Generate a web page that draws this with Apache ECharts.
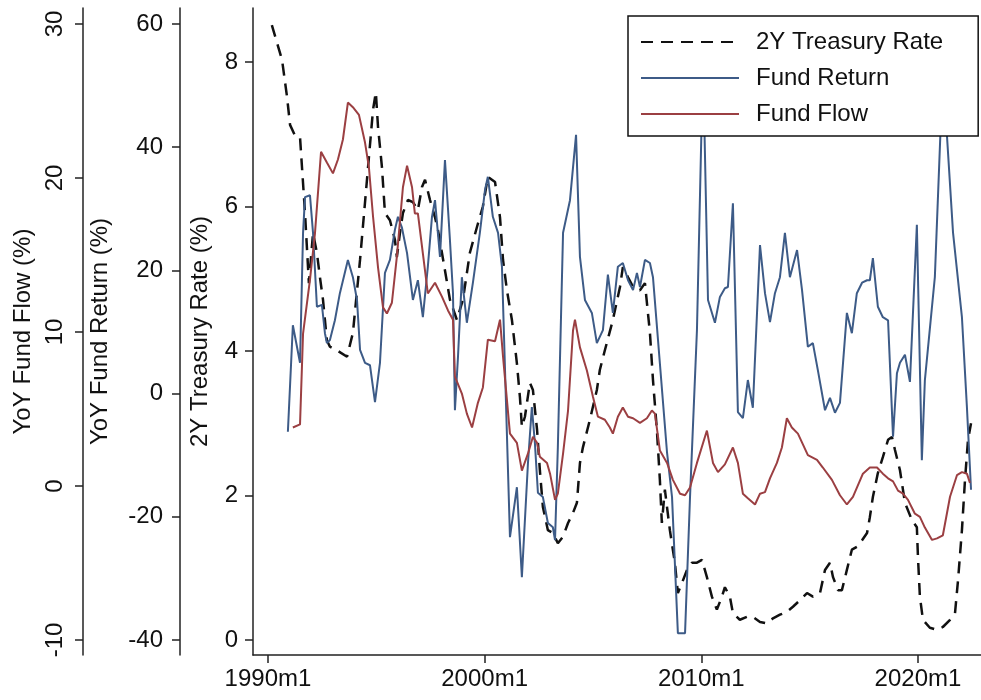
<!DOCTYPE html>
<html><head><meta charset="utf-8">
<script src="https://cdn.jsdelivr.net/npm/echarts@6/dist/echarts.min.js"></script>
<style>html,body{margin:0;padding:0;background:#fff}#c{width:981px;height:700px}</style>
</head><body><div id="c"></div>
<script>
// ---- tick values ----
const xTicks = [1990, 2000, 2010, 2020];
const treasuryTicks = [0, 2, 4, 6, 8];
const returnTicks = [-40, -20, 0, 20, 40, 60];
const flowTicks = [-10, 0, 10, 20, 30];

// ---- 2Y Treasury Rate (%) ----
const treasuryDates = [1990.18,1990.65,1990.88,1991.02,1991.25,1991.48,1991.57,1991.71,1991.89,1992.08,
1992.26,1992.40,1992.54,1992.72,1992.86,1993.18,1993.65,1993.92,1994.25,1994.57,
1994.85,1994.98,1995.08,1995.26,1995.40,1995.63,1995.86,1995.95,1996.09,1996.23,
1996.46,1996.69,1996.92,1997.11,1997.25,1997.48,1997.71,1997.85,1998.03,1998.40,
1998.72,1999.00,1999.32,1999.65,1999.92,2000.15,2000.48,2000.71,2000.85,2001.03,
2001.26,2001.49,2001.63,2001.72,2001.86,2002.09,2002.23,2002.42,2002.55,2002.69,
2002.92,2003.15,2003.38,2003.62,2003.85,2004.08,2004.26,2004.40,2004.54,2004.86,
2005.18,2005.32,2005.55,2005.92,2006.25,2006.38,2006.62,2006.85,2007.17,2007.40,
2007.63,2007.77,2007.95,2008.09,2008.18,2008.32,2008.55,2008.78,2008.92,2009.11,
2009.34,2009.57,2009.80,2010.03,2010.26,2010.49,2010.72,2010.95,2011.09,2011.32,
2011.46,2011.78,2012.11,2012.38,2012.71,2013.03,2013.31,2013.63,2013.95,2014.23,
2014.55,2014.88,2015.15,2015.48,2015.71,2015.94,2016.08,2016.31,2016.49,2016.72,
2016.95,2017.18,2017.42,2017.65,2017.78,2017.92,2018.15,2018.38,2018.62,2018.80,
2018.94,2019.17,2019.40,2019.72,2019.95,2020.00,2020.09,2020.23,2020.55,2020.88,
2021.15,2021.48,2021.71,2021.85,2022.03,2022.17,2022.31,2022.45];
const treasuryValues = [8.51,8.03,7.52,7.13,6.98,6.96,6.55,5.91,4.94,5.63,
5.36,5.02,4.71,4.15,4.06,4.01,3.92,4.25,5.26,6.37,
7.34,7.58,7.10,6.55,5.91,5.81,5.54,5.30,5.63,5.91,
6.09,6.06,5.95,6.27,6.37,6.09,5.85,5.67,5.36,4.71,
4.43,4.71,5.36,5.72,6.00,6.41,6.34,5.85,5.26,4.84,
4.43,3.83,3.36,2.95,3.09,3.56,3.46,2.91,2.35,1.84,
1.52,1.48,1.34,1.43,1.62,1.76,1.90,2.45,2.67,3.05,
3.46,3.74,4.01,4.43,4.89,5.16,5.02,4.89,4.84,4.94,
4.25,3.60,2.91,2.21,1.62,2.08,1.52,1.07,0.65,0.79,
0.97,1.07,1.07,1.11,0.87,0.60,0.42,0.60,0.73,0.60,
0.37,0.28,0.32,0.32,0.25,0.23,0.30,0.35,0.39,0.46,
0.55,0.65,0.60,0.65,0.97,1.07,0.87,0.69,0.69,0.97,
1.25,1.29,1.38,1.48,1.70,1.98,2.31,2.53,2.77,2.81,
2.63,2.35,1.90,1.66,1.56,1.15,0.60,0.28,0.17,0.14,
0.18,0.28,0.37,0.83,1.52,2.21,2.77,3.00];

// ---- YoY Fund Return (%) ----
const returnDates = [1990.92,1991.15,1991.48,1991.62,1991.71,1991.94,1992.08,1992.26,1992.49,1992.63,
1992.72,1992.86,1993.09,1993.32,1993.69,1993.92,1994.11,1994.25,1994.48,1994.71,
1994.94,1995.17,1995.40,1995.63,1995.86,1996.00,1996.18,1996.42,1996.69,1996.92,
1997.15,1997.38,1997.57,1997.71,1997.94,1998.17,1998.40,1998.54,1998.63,1998.77,
1998.95,1999.18,1999.46,1999.78,2000.02,2000.15,2000.38,2000.62,2000.80,2001.17,
2001.49,2001.72,2002.00,2002.18,2002.32,2002.46,2002.69,2002.92,2003.15,2003.25,
2003.38,2003.62,2003.94,2004.22,2004.40,2004.63,2004.95,2005.18,2005.46,2005.69,
2005.92,2006.15,2006.38,2006.62,2006.85,2007.03,2007.17,2007.40,2007.63,2007.77,
2008.42,2008.65,2008.92,2009.25,2009.48,2009.80,2010.08,2010.31,2010.63,2010.86,
2011.09,2011.23,2011.46,2011.69,2011.92,2012.15,2012.38,2012.71,2012.94,2013.17,
2013.40,2013.63,2013.86,2014.09,2014.42,2014.65,2014.92,2015.15,2015.38,2015.71,
2015.94,2016.17,2016.40,2016.72,2016.95,2017.18,2017.42,2017.65,2017.78,2017.92,
2018.15,2018.38,2018.62,2018.85,2019.03,2019.17,2019.40,2019.63,2019.95,2020.18,
2020.32,2020.78,2021.15,2021.62,2022.03,2022.26,2022.45];
const returnValues = [-6.2,11.1,5.0,26.1,31.9,32.2,26.1,14.1,14.4,9.8,
8.2,8.7,11.9,16.3,21.7,18.9,15.2,7.1,5.0,4.6,
-1.4,5.0,19.6,21.7,26.6,28.7,27.0,22.8,15.2,18.4,
12.4,20.6,28.7,31.4,22.2,37.9,24.9,16.3,-2.7,5.9,
18.9,11.5,18.0,26.1,33.1,35.2,28.7,26.1,20.6,-23.3,
-15.2,-29.8,-11.3,-2.2,-8.0,-16.1,-16.8,-21.0,-21.7,-23.8,
-8.7,26.1,31.4,42.0,22.2,15.2,13.1,8.2,10.3,19.3,
13.1,20.6,21.2,18.4,16.8,19.6,17.3,21.7,21.2,18.9,
-9.6,-16.8,-38.9,-38.9,-16.8,10.3,54.0,15.2,11.5,15.7,
17.1,17.3,30.9,-3.0,-4.0,2.2,-2.3,24.1,16.3,11.6,
16.3,18.9,26.1,18.9,23.3,16.8,7.6,8.2,3.8,-2.7,
-0.7,-3.1,-1.5,13.1,9.8,16.3,18.0,18.4,18.4,22.0,
14.1,12.4,11.9,-7.0,3.3,5.0,6.3,1.9,27.4,-10.8,
2.2,18.9,52.5,26.1,12.4,-2.2,-15.6];

// ---- YoY Fund Flow (%) ----
const flowDates = [1991.15,1991.48,1991.62,1991.94,1992.17,1992.45,1992.72,1993.00,1993.23,1993.46,
1993.69,1993.92,1994.20,1994.48,1994.66,1994.85,1995.08,1995.31,1995.49,1995.72,
1995.95,1996.23,1996.42,1996.65,1996.78,1996.92,1997.15,1997.38,1997.71,1998.03,
1998.31,1998.54,1998.63,1998.95,1999.18,1999.42,1999.69,1999.92,2000.15,2000.48,
2000.71,2000.85,2001.17,2001.49,2001.72,2002.00,2002.23,2002.42,2002.55,2002.88,
2003.02,2003.25,2003.38,2003.62,2003.85,2004.08,2004.17,2004.40,2004.72,2005.00,
2005.23,2005.55,2005.78,2005.92,2006.15,2006.38,2006.62,2006.85,2007.17,2007.49,
2007.72,2007.86,2008.09,2008.42,2008.69,2009.02,2009.25,2009.48,2009.80,2010.26,
2010.54,2010.77,2011.09,2011.46,2011.69,2011.92,2012.15,2012.48,2012.71,2012.94,
2013.17,2013.49,2013.72,2013.95,2014.18,2014.46,2014.92,2015.34,2015.61,2016.03,
2016.40,2016.72,2017.00,2017.46,2017.78,2018.11,2018.38,2018.62,2018.85,2019.08,
2019.31,2019.54,2019.86,2020.09,2020.32,2020.65,2020.88,2021.15,2021.48,2021.80,
2022.03,2022.26,2022.40];
const flowValues = [3.8,4.0,9.9,13.4,16.4,21.7,21.0,20.3,21.2,22.5,
24.9,24.6,24.1,22.3,20.7,17.5,14.2,11.6,11.2,11.9,
14.9,19.4,20.8,19.4,17.7,17.7,15.1,12.5,13.2,12.3,
11.4,10.8,7.1,6.0,4.7,3.8,5.4,6.4,9.5,9.4,
10.8,8.4,3.4,2.8,1.0,2.1,3.2,2.8,1.9,1.5,
0.8,-0.9,-0.5,2.1,4.9,10.1,10.8,9.0,7.5,5.8,
4.5,4.3,3.8,3.4,4.5,5.1,4.5,4.4,4.1,4.4,
4.9,4.7,2.3,1.5,0.4,-0.5,-0.6,-0.1,1.5,3.6,
1.5,0.9,1.4,2.5,1.5,-0.5,-0.8,-1.2,-0.5,-0.4,
0.5,1.5,2.5,4.4,3.8,3.4,2.0,1.7,1.2,0.4,
-0.6,-1.2,-0.7,0.8,1.2,1.2,0.8,0.5,0.3,-0.3,
-0.5,-0.9,-1.8,-2.0,-2.7,-3.5,-3.4,-3.2,-0.7,0.7,
0.9,0.8,0.2];

const seriesNames = ['2Y Treasury Rate', 'Fund Return', 'Fund Flow'];
const axisNames = ['2Y Treasury Rate (%)', 'YoY Fund Return (%)', 'YoY Fund Flow (%)'];

function pairs(d, v) { return d.map((x, i) => [x, v[i]]); }

const FONT = '"Liberation Sans", Arial, Helvetica, sans-serif';
const TXT = '#111';
const LINE = '#222';

function yAxis(opts) {
  return Object.assign({
    type: 'value',
    position: 'left',
    splitLine: { show: false },
    axisLine: { show: true, onZero: false, lineStyle: { color: LINE, width: 1.5 } },
    axisTick: { show: true, length: 8, lineStyle: { color: LINE, width: 1.5 }, customValues: opts.ticks },
    axisLabel: { customValues: opts.ticks, fontSize: 24, color: TXT, fontFamily: FONT, margin: opts.margin, rotate: opts.rotate || 0 },
    nameLocation: 'middle',
    nameTextStyle: { fontSize: 24, color: TXT, fontFamily: FONT }
  }, opts.extra);
}

const chart = echarts.init(document.getElementById('c'), null, { renderer: 'canvas' });
chart.setOption({
  animation: false,
  backgroundColor: '#fff',
  grid: { left: 253, right: 0, top: 8, bottom: 45 },
  xAxis: {
    type: 'value', min: 1989.31, max: 2022.91,
    splitLine: { show: false },
    axisLine: { show: true, onZero: false, lineStyle: { color: LINE, width: 1.5 } },
    axisTick: { show: true, length: 8, customValues: xTicks, lineStyle: { color: LINE, width: 1.5 } },
    axisLabel: { customValues: xTicks, formatter: v => Math.round(v) + 'm1', fontSize: 24, color: TXT, fontFamily: FONT, margin: 12 }
  },
  yAxis: [
    yAxis({ ticks: treasuryTicks, margin: 15, extra: { offset: 0, min: -0.2076, max: 8.7474, name: axisNames[0], nameGap: 41 } }),
    yAxis({ ticks: returnTicks, margin: 17, extra: { offset: 73, min: -42.435, max: 62.597, name: axisNames[1], nameGap: 68 } }),
    yAxis({ ticks: flowTicks, margin: 16, rotate: 90, extra: { offset: 170, min: -10.974, max: 31.039, name: axisNames[2], nameGap: 48 } })
  ],
  legend: {
    orient: 'vertical', left: 628, top: 16,
    padding: [14, 35, 10, 12],
    itemWidth: 98, itemHeight: 24, itemGap: 12,
    borderColor: '#111', borderWidth: 1.5, backgroundColor: '#fff',
    itemStyle: { opacity: 0 },
    textStyle: { fontSize: 24, color: TXT, fontFamily: FONT, padding: [0, 0, 0, 12] },
    data: seriesNames
  },
  series: [
    { name: seriesNames[0], type: 'line', yAxisIndex: 0, symbol: 'none', data: pairs(treasuryDates, treasuryValues),
      lineStyle: { color: '#111', width: 2.5, type: [12, 8] }, itemStyle: { color: '#111' } },
    { name: seriesNames[1], type: 'line', yAxisIndex: 1, symbol: 'none', data: pairs(returnDates, returnValues),
      lineStyle: { color: '#3d5b87', width: 2 }, itemStyle: { color: '#3d5b87' } },
    { name: seriesNames[2], type: 'line', yAxisIndex: 2, symbol: 'none', data: pairs(flowDates, flowValues),
      lineStyle: { color: '#9b3f42', width: 2 }, itemStyle: { color: '#9b3f42' } }
  ]
});
</script></body></html>
